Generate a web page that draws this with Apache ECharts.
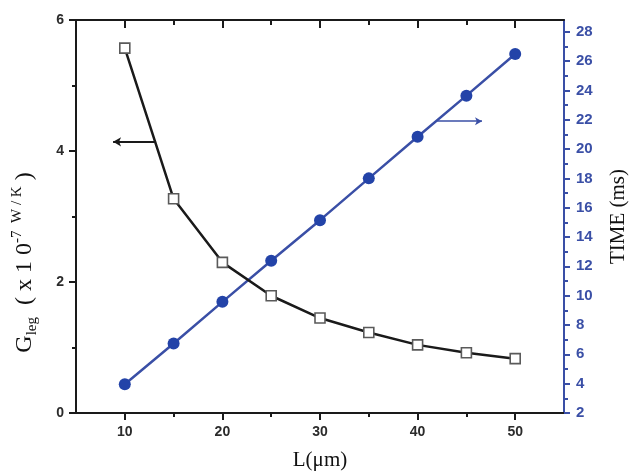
<!DOCTYPE html>
<html>
<head>
<meta charset="utf-8">
<script src="https://cdn.jsdelivr.net/npm/echarts@6/dist/echarts.min.js"></script>
<style>html,body{margin:0;padding:0;background:#fff}#c{width:638px;height:473px}</style>
</head>
<body>
<div id="c"></div>
<script>
// Data
var L = [10, 15, 20, 25, 30, 35, 40, 45, 50];
var G = [5.57, 3.27, 2.30, 1.79, 1.45, 1.23, 1.04, 0.92, 0.83];
var T = [3.96, 6.74, 9.58, 12.38, 15.15, 18.0, 20.84, 23.64, 26.48];
var xMajor = [10, 20, 30, 40, 50];
var xMinor = [15, 25, 35, 45];
var leftMajor = [0, 2, 4, 6];
var leftMinor = [1, 3, 5];
var rightMajor = [2, 4, 6, 8, 10, 12, 14, 16, 18, 20, 22, 24, 26, 28];
var rightMinor = [3, 5, 7, 9, 11, 13, 15, 17, 19, 21, 23, 25, 27];
var gArrow = [[13.2, 4.14], [8.8, 4.14]];
var tArrow = [[42.0, 21.9], [46.6, 21.9]];

var BLACK = '#1a1a1a';
var BLUE = '#3a4fa6';
var BLUE_DOT = '#2343a8';

function pairs(a, b) { return a.map(function (v, i) { return [v, b[i]]; }); }

var xBase = { type: 'value', min: 5, max: 55, splitLine: { show: false }, gridIndex: 0 };
function xAxis(pos, ticks, len, inside, labels, showLine, name) {
  return Object.assign({}, xBase, {
    position: pos,
    name: name || '',
    nameLocation: 'middle',
    nameGap: 37,
    nameTextStyle: { fontFamily: 'Liberation Serif', fontSize: 21, color: '#111' },
    axisLine: { show: showLine, onZero: false, lineStyle: { color: BLACK, width: 2 } },
    axisTick: { show: true, customValues: ticks, length: len, inside: inside, lineStyle: { color: BLACK, width: 2 } },
    axisLabel: labels ? { show: true, customValues: xMajor, margin: 12, fontFamily: 'Liberation Sans', fontWeight: 'bold', fontSize: 14, color: '#2b2b2b' } : { show: false }
  });
}
function yAxis(pos, min, max, ticks, len, labels, showLine, color, extra) {
  return Object.assign({
    type: 'value', position: pos, min: min, max: max, splitLine: { show: false },
    axisLine: { show: showLine, onZero: false, lineStyle: { color: color, width: 2 } },
    axisTick: { show: true, customValues: ticks, length: len, lineStyle: { color: color, width: 2 } },
    axisLabel: labels ? { show: true, customValues: labels, margin: 12, fontFamily: 'Liberation Sans', fontWeight: 'bold', fontSize: color === BLACK ? 14 : 15, color: color === BLACK ? '#2b2b2b' : BLUE } : { show: false }
  }, extra || {});
}

var option = {
  animation: false,
  backgroundColor: '#fff',
  grid: { left: 76, right: 74, top: 20, bottom: 60, containLabel: false, outerBoundsMode: 'none' },
  xAxis: [
    xAxis('bottom', xMajor, 7, false, true, true, 'L(\u03bcm)'),
    xAxis('bottom', xMinor, 4, false, false, false),
    xAxis('top', xMajor, 8, true, false, true),
    xAxis('top', xMinor, 5, true, false, false)
  ],
  yAxis: [
    yAxis('left', 0, 6, leftMajor, 7, leftMajor, true, BLACK, {
      name: '{m|G}{sub|leg}{m|  ( x 1 0}{sup|-7  W / K}{m| )}',
      nameLocation: 'middle', nameRotate: 90, nameGap: 36,
      nameTextStyle: {
        padding: [0, 92, 0, 0],
        rich: {
          m: { fontFamily: 'Liberation Serif', fontSize: 24, color: '#111', lineHeight: 30 },
          sub: { fontFamily: 'Liberation Serif', fontSize: 15, color: '#111', verticalAlign: 'bottom', lineHeight: 30, padding: [10, 0, 0, 0] },
          sup: { fontFamily: 'Liberation Serif', fontSize: 15, color: '#111', verticalAlign: 'top', lineHeight: 30, padding: [0, 0, 9, 0] }
        }
      }
    }),
    yAxis('left', 0, 6, leftMinor, 4, null, false, BLACK),
    yAxis('right', 2, 28.8, rightMajor, 6, rightMajor, true, BLUE, {
      name: 'TIME (ms)', nameLocation: 'middle', nameRotate: 90, nameGap: 44,
      nameTextStyle: { fontFamily: 'Liberation Serif', fontSize: 21, color: '#111' }
    }),
    yAxis('right', 2, 28.8, rightMinor, 4, null, false, BLUE)
  ],
  series: [
    {
      type: 'line', xAxisIndex: 0, yAxisIndex: 0, z: 3,
      data: pairs(L, G),
      symbol: 'rect', symbolSize: 10,
      lineStyle: { color: BLACK, width: 2.5 },
      itemStyle: { color: '#ffffff', borderColor: '#5a5a5a', borderWidth: 1.6 },
      markLine: {
        silent: true, symbol: ['none', 'arrow'], symbolSize: [7, 8],
        label: { show: false },
        lineStyle: { color: BLACK, width: 2, type: 'solid' },
        data: [[{ coord: gArrow[0] }, { coord: gArrow[1] }]]
      }
    },
    {
      type: 'line', xAxisIndex: 0, yAxisIndex: 2, z: 2,
      data: pairs(L, T),
      symbol: 'circle', symbolSize: 12,
      lineStyle: { color: BLUE, width: 2.5 },
      itemStyle: { color: BLUE_DOT },
      markLine: {
        silent: true, symbol: ['none', 'arrow'], symbolSize: [6, 7],
        label: { show: false },
        lineStyle: { color: BLUE, width: 1.6, type: 'solid' },
        data: [[{ coord: tArrow[0] }, { coord: tArrow[1] }]]
      }
    }
  ]
};
var chart = echarts.init(document.getElementById('c'), null, { renderer: 'canvas' });
chart.setOption(option);
</script>
</body>
</html>
